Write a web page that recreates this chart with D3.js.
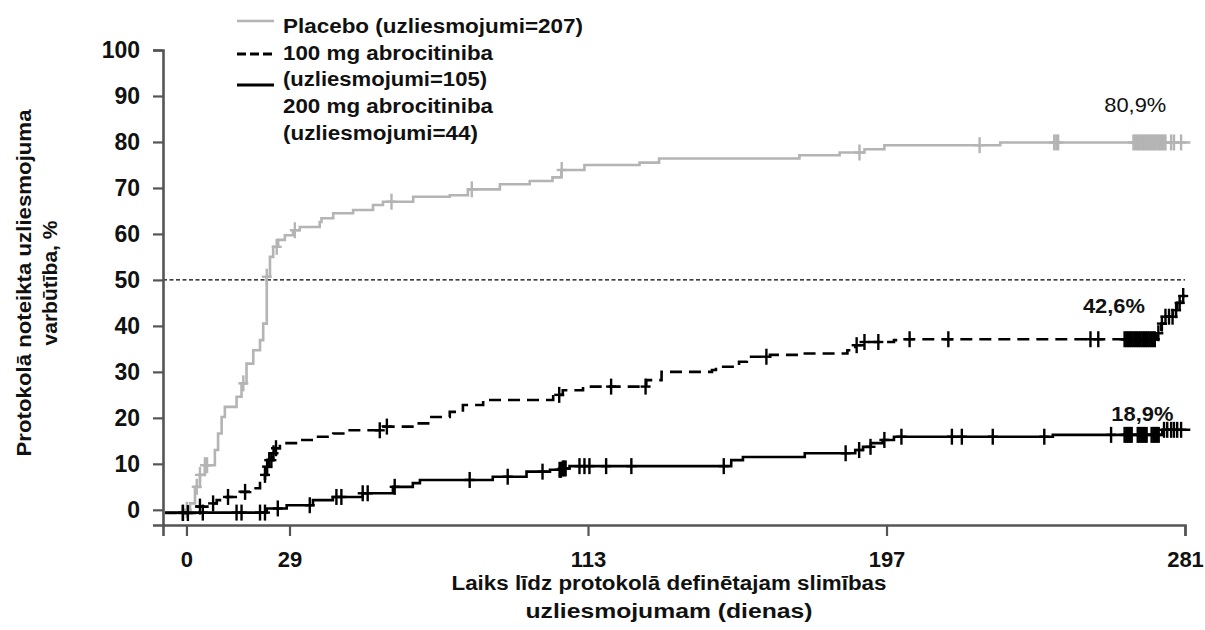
<!DOCTYPE html>
<html lang="lv">
<head>
<meta charset="utf-8">
<script src="https://d3js.org/d3.v7.min.js"></script>
<style>
  body { margin: 0; background: #fff; }
  svg { font-family: "Liberation Sans", Arial, sans-serif; }
</style>
</head>
<body>
<div id="my_dataviz"></div>
<script>

// tick labels
const xTicks = [0, 29, 113, 197, 281];
const yTicks = [0, 10, 20, 30, 40, 50, 60, 70, 80, 90, 100];

// Placebo: step curve (day, cumulative %)
const placeboDays = [0, 1, 2.4, 3.8, 5.2, 8, 8.9, 9.9, 10.8, 14.1, 15.5, 16.9, 18.8, 20.7, 21.6, 22.6, 23.5, 24.4, 25.8, 27.7, 30, 31.9, 37.5, 38, 41.3, 46.9, 52.5, 55.3, 63.8, 74.1, 79.2, 88.2, 96.6, 103, 105.5, 112, 127.5, 133, 172.5, 183.8, 190.8, 196.4, 229, 282.5];
const placeboPct  = [0, 1.4, 5, 7.6, 9.7, 13, 16.6, 20.2, 22.4, 24.6, 27.5, 31.8, 34.7, 36.9, 40.5, 50.7, 55, 57.2, 58.7, 59.7, 60.8, 61.5, 62.6, 63.4, 64.5, 65.2, 66.3, 67, 68.1, 68.4, 69.7, 70.8, 71.5, 72.3, 73.9, 75, 75.5, 76.4, 77.1, 77.7, 78.4, 79.3, 79.9, 79.9];
const placeboCensor = [0.1, 2.9, 3.8, 5.2, 5.8, 16, 22.6, 25.4, 30.5, 57.7, 80.3, 105.6, 189.4, 223.2, 244.2, 244.8, 245.3, 266.5, 267, 267.5, 268, 268.5, 269, 269.5, 270, 270.5, 271, 271.5, 272, 272.5, 273, 273.5, 274, 274.5, 275, 275.5, 277.1, 277.9, 279.9];

// 100 mg abrocitiniba
const dose100Days = [-6, 2.9, 6.6, 8.5, 11.3, 15, 17.9, 20.7, 22.1, 22.6, 23, 24, 24.9, 26.3, 31.9, 36.6, 41.3, 45, 55.3, 64.7, 68.4, 74.1, 77.8, 83.5, 103.2, 105.9, 111.6, 129.4, 133.7, 147.9, 149, 155.5, 157.7, 164.2, 173, 186, 188.2, 190.4, 199.1, 200.6, 273.2, 274.3, 275.4, 277.6, 278.8, 279.7, 281];
const dose100Pct  = [-0.7, 0.7, 1.4, 2.1, 2.8, 3.9, 4.7, 5.8, 7.6, 9.4, 10.8, 12.3, 13.4, 14.5, 15.2, 15.9, 16.6, 17.3, 18.1, 18.8, 20.2, 21.3, 22.8, 23.9, 25, 26, 26.8, 28.2, 30, 30.4, 31.1, 32.2, 33.3, 33.7, 34, 34.7, 35.8, 36.5, 36.9, 37.1, 38.4, 40.5, 42, 43.4, 45, 46.5, 46.5];
const dose100Censor = [-1, 0.4, 3.8, 7.5, 11.7, 16.5, 22.1, 22.7, 23.3, 23.9, 24.5, 25.2, 54.4, 56.4, 104.9, 119.5, 129.2, 163.2, 188.6, 190.8, 194.7, 203.5, 214.4, 254.4, 256.6, 264, 264.5, 265, 265.5, 266, 266.5, 267, 267.5, 268, 268.5, 269, 269.5, 270, 270.5, 271, 271.5, 272, 272.5, 273.5, 274.5, 275.5, 276.5, 277.5, 278.5, 279.5, 280.5];

// 200 mg abrocitiniba
const dose200Days = [-6, 22.6, 28.2, 35.6, 41.2, 49.6, 58.1, 63.7, 65.7, 86.2, 95.7, 102.3, 105.9, 107.8, 153.3, 156.6, 174, 188.2, 190.4, 192.6, 195.9, 199.1, 243.8, 274.6, 282.5];
const dose200Pct  = [-0.6, 0.3, 1, 2.1, 2.8, 3.6, 5, 5.8, 6.5, 7.2, 8.3, 8.7, 9, 9.5, 10.8, 11.5, 12.3, 13, 13.7, 14.5, 15.2, 15.9, 16.3, 17.4, 17.4];
const dose200Censor = [-1, 4.6, 14.1, 15.5, 20.7, 22.1, 25.7, 34.7, 42.2, 43.6, 49.6, 51, 58.6, 79.7, 90.4, 100.2, 105, 105.4, 105.9, 106.3, 106.7, 110.6, 112, 113.4, 118.1, 125.2, 151.2, 185.5, 189.3, 192.5, 196.4, 201.2, 215.4, 218.2, 226.9, 241.4, 260.2, 264, 264.5, 265, 265.5, 266, 267.7, 268.2, 268.7, 269.2, 269.7, 270.2, 271.6, 272.1, 272.6, 273.1, 273.6, 275.1, 276, 277.1, 277.9, 278.8, 279.9];

// end-of-curve labels
const endLabels = ["80,9%", "42,6%", "18,9%"];
const legendLabels = ["Placebo (uzliesmojumi=207)", "100 mg abrocitiniba", "(uzliesmojumi=105)", "200 mg abrocitiniba", "(uzliesmojumi=44)"];

// set the dimensions and margins of the graph
const margin = {top: 50, right: 20, bottom: 105, left: 163},
    width = 1185 - margin.left,
    height = 525 - margin.top;

const svgRoot = d3.select("#my_dataviz")
  .append("svg")
    .attr("width", 1205)
    .attr("height", 630);

const svg = svgRoot.append("g")
    .attr("transform", `translate(${margin.left}, ${margin.top})`);

const x = d3.scaleLinear().domain([-6.6, 281]).range([0, width]);
const y = d3.scaleLinear().domain([-3.3, 100]).range([height, 0]);

// reference line at 50 %
svg.append("line")
  .attr("x1", 0).attr("x2", x(281))
  .attr("y1", y(50)).attr("y2", y(50))
  .attr("stroke", "#000")
  .attr("stroke-width", 1.3)
  .attr("stroke-dasharray", "4,2.5");

// curves
const series = [
  {days: placeboDays, pct: placeboPct, censor: placeboCensor, color: "#b4b4b4", dash: null},
  {days: dose100Days, pct: dose100Pct, censor: dose100Censor, color: "#000", dash: "12,7"},
  {days: dose200Days, pct: dose200Pct, censor: dose200Censor, color: "#000", dash: null}
];

const stepLine = d3.line()
  .x(d => x(d[0]))
  .y(d => y(d[1]))
  .curve(d3.curveStepAfter);

series.forEach(function(s) {
  const pts = s.days.map((d, i) => [d, s.pct[i]]);

  svg.append("path")
    .datum(pts)
    .attr("d", stepLine)
    .attr("fill", "none")
    .attr("stroke", s.color)
    .attr("stroke-width", 2.6)
    .attr("stroke-dasharray", s.dash);

  // value of the step curve on a given day
  function valueAt(day) {
    let v = s.pct[0];
    s.days.forEach((d, i) => { if (d <= day) v = s.pct[i]; });
    return v;
  }

  const marks = svg.append("g")
    .attr("stroke", s.color)
    .attr("stroke-width", 2.4);

  s.censor.forEach(function(c) {
    const cx = x(c), cy = y(valueAt(c));
    marks.append("line")
      .attr("x1", cx).attr("x2", cx)
      .attr("y1", cy - 8).attr("y2", cy + 8);
    marks.append("line")
      .attr("x1", cx - 5).attr("x2", cx + 5)
      .attr("y1", cy).attr("y2", cy);
  });
});

// axes
const xAxis = svg.append("g")
  .attr("transform", `translate(0, ${height})`)
  .call(d3.axisBottom(x).tickValues(xTicks).tickSize(11).tickSizeOuter(11).tickPadding(15));

const yAxis = svg.append("g")
  .call(d3.axisLeft(y).tickValues(yTicks).tickSize(10).tickSizeOuter(10).tickPadding(13));

[xAxis, yAxis].forEach(function(a) {
  a.select(".domain").attr("stroke", "#555").attr("stroke-width", 2.6);
  a.selectAll(".tick line").attr("stroke", "#555").attr("stroke-width", 2.2);
  a.selectAll(".tick text")
    .attr("fill", "#111")
    .style("font-family", "'Liberation Sans', Arial, sans-serif")
    .style("font-weight", "bold");
});
xAxis.selectAll(".tick text").style("font-size", "22px");
yAxis.selectAll(".tick text").style("font-size", "23px");

// end labels
const labelPos = [[281 - 14, 80.9 + 5.7], [281 - 20, 42.6 + 0.3], [281 - 12, 18.9 + 0.4]];
endLabels.forEach(function(t, i) {
  svg.append("text")
    .attr("x", x(labelPos[i][0]))
    .attr("y", y(labelPos[i][1]))
    .attr("text-anchor", "middle")
    .attr("textLength", 62)
    .attr("lengthAdjust", "spacingAndGlyphs")
    .style("font-size", "21px")
    .style("font-weight", i === 0 ? "normal" : "bold")
    .attr("fill", "#111")
    .text(t);
});

// axis titles
svgRoot.append("text")
  .attr("transform", "translate(31, 283) rotate(-90)")
  .attr("text-anchor", "middle")
  .attr("textLength", 347)
  .attr("lengthAdjust", "spacingAndGlyphs")
  .style("font-size", "21px")
  .style("font-weight", "bold")
  .attr("fill", "#111")
  .text("Protokolā noteikta uzliesmojuma");

svgRoot.append("text")
  .attr("transform", "translate(57, 283) rotate(-90)")
  .attr("text-anchor", "middle")
  .style("font-size", "21px")
  .style("font-weight", "bold")
  .attr("fill", "#111")
  .text("varbūtība, %");

svgRoot.append("text")
  .attr("x", 669).attr("y", 590)
  .attr("text-anchor", "middle")
  .attr("textLength", 435)
  .attr("lengthAdjust", "spacingAndGlyphs")
  .style("font-size", "20px")
  .style("font-weight", "bold")
  .attr("fill", "#111")
  .text("Laiks līdz protokolā definētajam slimības");

svgRoot.append("text")
  .attr("x", 669).attr("y", 618)
  .attr("text-anchor", "middle")
  .attr("textLength", 287)
  .attr("lengthAdjust", "spacingAndGlyphs")
  .style("font-size", "20px")
  .style("font-weight", "bold")
  .attr("fill", "#111")
  .text("uzliesmojumam (dienas)");

// legend
const legendWidths = [300, 210, 204, 210, 195];
legendLabels.forEach(function(t, i) {
  svgRoot.append("text")
    .attr("x", 283)
    .attr("y", 33 + i * 26.7)
    .attr("textLength", legendWidths[i])
    .attr("lengthAdjust", "spacingAndGlyphs")
    .style("font-size", "19.5px")
    .style("font-weight", "bold")
    .attr("fill", "#111")
    .text(t);
});

const legendKeys = [
  {y: 21, color: "#b4b4b4", dash: null, w: 2.4},
  {y: 54, color: "#000", dash: "9,4", w: 3},
  {y: 85, color: "#000", dash: null, w: 3}
];
legendKeys.forEach(function(k) {
  svgRoot.append("line")
    .attr("x1", 237).attr("x2", 274)
    .attr("y1", k.y).attr("y2", k.y)
    .attr("stroke", k.color)
    .attr("stroke-width", k.w)
    .attr("stroke-dasharray", k.dash);
});

</script>
</body>
</html>
